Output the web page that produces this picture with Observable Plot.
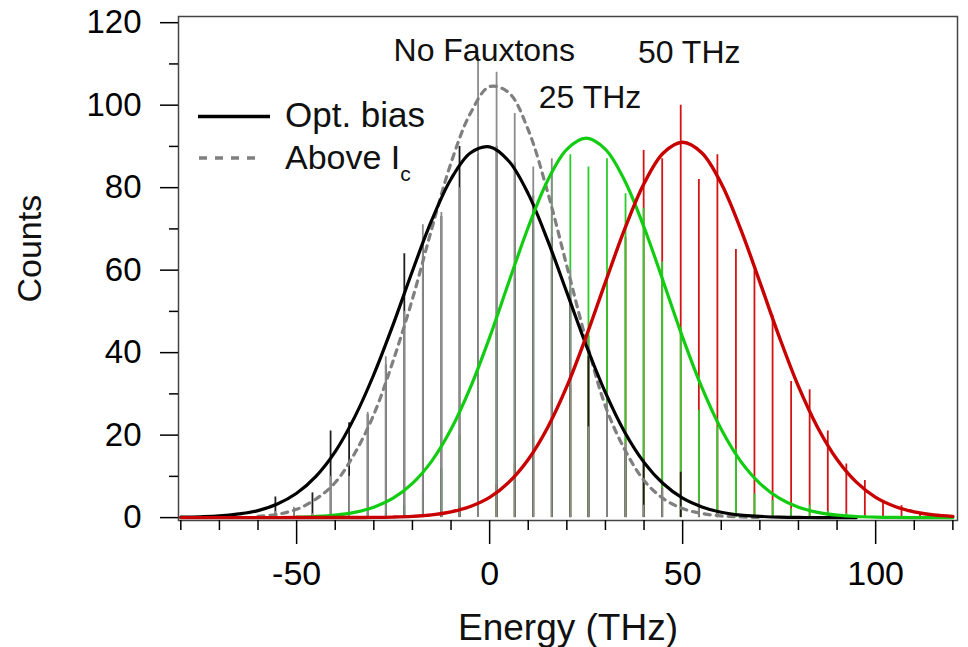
<!DOCTYPE html>
<html><head><meta charset="utf-8">
<script src="https://cdn.jsdelivr.net/npm/d3@7"></script>
<script src="https://cdn.jsdelivr.net/npm/@observablehq/plot@0.6"></script>
<style>
body{margin:0;background:#fff;}
#wrap{position:relative;width:968px;height:647px;}
</style></head><body><div id="wrap"></div>
<script>
// ---- histogram bin centres (THz) ----
const binCenters = [-60.2, -55.5, -50.7, -45.9, -41.2, -36.4, -31.6, -26.9, -22.1, -17.3, -12.5, -7.8, -3.0, 1.8, 6.5, 11.3, 16.1, 20.9, 25.6, 30.4, 35.2, 39.9, 44.7, 49.5, 54.2, 59.0, 63.8, 68.6, 73.3, 78.1, 82.9, 87.6, 92.4, 97.2, 101.9, 106.7, 111.5, 116.3];
// stick histograms (counts)
const countsAboveIc = [0, 1.5, 2.5, 1, 10, 10, 25.5, 39, 50, 71, 74, 80, 112, 108, 98, 85, 87, 60, 22, 28, 18, 3, 7, 0, 4, 1, 0, 0, 0, 0, 0, 0, 0, 0, 0, 0, 0, 0];
const countsOptBias = [0, 5, 2, 6, 21, 23, 25, 37, 64, 68, 73, 90, 88, 90, 86, 78, 68, 55, 39, 27, 16, 14, 7, 11, 3, 1, 0, 0, 0, 0, 0, 0, 0, 0, 0, 0, 0, 0];
const counts25THz = [0, 0, 0, 0, 0, 0, 0.5, 1, 3, 6, 12, 20, 30, 45, 58, 70, 84, 88, 85, 87, 78.5, 75, 62, 46, 26, 22, 16.6, 5.7, 4.1, 2.1, 3, 1.5, 1, 0.5, 0, 0, 0, 0];
const counts50THz = [0, 0, 0, 0, 0, 0, 0, 0, 0.3, 0.7, 1.5, 2.8, 4.5, 8, 13, 20, 30, 32, 44, 57, 68, 89, 87, 100, 82, 88, 65, 60, 49, 33, 31, 21, 13, 9, 3.7, 2.9, 1.2, 0.5];

// ---- fitted curves, read every 5 THz ----
const curveX = [-80, -75, -70, -65, -60, -55, -50, -45, -40, -35, -30, -25, -20, -15, -10, -5, 0, 5, 10, 15, 20, 25, 30, 35, 40, 45, 50, 55, 60, 65, 70, 75, 80, 85, 90, 95, 100, 105, 110, 115, 120];
const fitOptBias = [0.1, 0.2, 0.4, 0.9, 1.7, 3.3, 5.9, 10.0, 16.0, 24.3, 34.7, 46.8, 59.8, 72.1, 82.1, 88.4, 89.9, 86.4, 78.5, 67.3, 54.6, 41.8, 30.3, 20.7, 13.4, 8.2, 4.7, 2.6, 1.3, 0.6, 0.3, 0.1, 0.05, 0, 0, 0, null, null, null, null, null];
const fitAboveIc = [null, null, null, null, 0.3, 0.8, 2.0, 4.5, 8.5, 15.5, 25, 38, 53, 70, 86, 98, 104.5, 103, 94, 79, 61, 43, 27, 16.5, 9, 4.6, 2.2, 1.0, 0.4, 0.15, 0.05, null, null, null, null, null, null, null, null, null, null];
const fit25THz = [null, null, null, null, null, null, 0.1, 0.27, 0.6, 1.27, 2.5, 4.7, 8.3, 13.7, 21.4, 31.5, 43.7, 57.2, 70.4, 81.7, 89.3, 92, 89.3, 81.7, 70.4, 57.2, 43.7, 31.5, 21.4, 13.7, 8.3, 4.7, 2.5, 1.27, 0.6, 0.27, 0.11, 0.04, 0.01, 0, 0];
const fit50THz = [0, 0, 0, 0, 0, 0, 0.01, 0.01, 0.01, 0.02, 0.05, 0.13, 0.3, 0.66, 1.4, 2.7, 4.9, 8.6, 14.1, 21.8, 31.8, 43.9, 57.1, 70.0, 81.0, 88.4, 91, 88.4, 81.0, 70.0, 57.1, 43.9, 31.8, 21.8, 14.1, 8.6, 4.9, 2.7, 1.4, 0.66, 0.3];

// ---- annotations ----
const annoText = ["No Fauxtons", "25 THz", "50 THz"];
const annoX = [-1.4, 26.0, 51.7];
const annoY = [110.8, 99.3, 110.3];

// ---- ticks ----
const xMajor = [-50, 0, 50, 100];
const xMinor = [-80, -70, -60, -40, -30, -20, -10, 10, 20, 30, 40, 60, 70, 80, 90, 110, 120];
const yMajor = [0, 20, 40, 60, 80, 100, 120];
const yMinor = [10, 30, 50, 70, 90, 110];

const legendLabels = ["Opt. bias", "Above I"];

const colors = {grey: "#8c8c8c", black: "#1e1e1e", green: "#2ccc2c", red: "#d41414",
  fitBlack: "#000000", fitGrey: "#7f7f7f", fitGreen: "#11cc11", fitRed: "#c80000"};

const bins = binCenters.map((x, i) => ({x, above: countsAboveIc[i], opt: countsOptBias[i], g25: counts25THz[i], r50: counts50THz[i]}));
const curves = curveX.map((x, i) => ({x, opt: fitOptBias[i], above: fitAboveIc[i], g25: fit25THz[i], r50: fit50THz[i]}));
const annos = annoText.map((t, i) => ({t, x: annoX[i], y: annoY[i]}));

const font = "'Liberation Sans', Arial, sans-serif";
const sw = 1.8;

const svg = Plot.plot({
  width: 968, height: 647,
  marginLeft: 178, marginRight: 11, marginTop: 16, marginBottom: 127,
  x: {domain: [-80.6, 121.2]},
  y: {domain: [-0.7, 121.5]},
  style: {fontFamily: font, background: "white", color: "black"},
  marks: [
    Plot.ruleX(bins, {x: "x", y1: 0, y2: "r50", stroke: colors.red, strokeWidth: sw}),
    Plot.ruleX(bins, {x: "x", y1: 0, y2: "g25", stroke: colors.green, strokeWidth: sw}),
    Plot.ruleX(bins, {x: "x", y1: 0, y2: "opt", stroke: colors.black, strokeWidth: sw}),
    Plot.ruleX(bins, {x: "x", y1: 0, y2: "above", stroke: colors.grey, strokeWidth: sw}),
    Plot.line(curves, {x: "x", y: "above", stroke: colors.fitGrey, strokeWidth: 3.2, strokeDasharray: "6,6", curve: "catmull-rom"}),
    Plot.line(curves, {x: "x", y: "opt", stroke: colors.fitBlack, strokeWidth: 3.2, curve: "catmull-rom"}),
    Plot.line(curves, {x: "x", y: "g25", stroke: colors.fitGreen, strokeWidth: 3.2, curve: "catmull-rom"}),
    Plot.line(curves, {x: "x", y: "r50", stroke: colors.fitRed, strokeWidth: 3.4, curve: "catmull-rom"}),
    Plot.text(annos, {x: "x", y: "y", text: "t", fontSize: 32, textAnchor: "middle", lineAnchor: "bottom", fill: "#111"}),
    Plot.frame({stroke: "#444", strokeWidth: 1.5}),
    Plot.axisY({ticks: yMajor, tickSize: 18, tickPadding: 19, fontSize: 33, label: null, strokeWidth: 1.5, tickFormat: d => String(d)}),
    Plot.axisY({ticks: yMinor, tickSize: 9, text: null, label: null, strokeWidth: 1.5}),
    Plot.axisX({ticks: xMajor, tickSize: 24, tickPadding: 16, fontSize: 34, label: null, strokeWidth: 1.5, tickFormat: d => String(d)}),
    Plot.axisX({ticks: xMinor, tickSize: 10, text: null, label: null, strokeWidth: 1.5}),
    Plot.text(["Energy (THz)"], {text: d => d, frameAnchor: "bottom", dy: 119, lineAnchor: "bottom", fontSize: 37, fill: "#111"}),
    Plot.text(["Counts"], {text: d => d, x: () => -80.6, y: () => 65.2, rotate: -90, dx: -148, lineAnchor: "middle", textAnchor: "middle", fontSize: 34, fill: "#111"})
  ]
});
document.getElementById("wrap").appendChild(svg);

// legend inside the plot area
const lg = d3.select(svg).append("g").attr("font-family", font).attr("text-anchor", "start");
lg.append("line").attr("x1", 198).attr("x2", 270).attr("y1", 116.5).attr("y2", 116.5)
  .attr("stroke", colors.fitBlack).attr("stroke-width", 3.5);
lg.append("text").attr("x", 285).attr("y", 127).attr("font-size", 35).attr("fill", "#111").text(legendLabels[0]);
lg.append("line").attr("x1", 199).attr("x2", 262).attr("y1", 158).attr("y2", 158)
  .attr("stroke", colors.fitGrey).attr("stroke-width", 3.5).attr("stroke-dasharray", "8,8");
const t2 = lg.append("text").attr("x", 285).attr("y", 168.5).attr("font-size", 34).attr("fill", "#111");
t2.append("tspan").text(legendLabels[1]);
t2.append("tspan").attr("font-size", 21).attr("dy", 12).text("c");
</script></body></html>
